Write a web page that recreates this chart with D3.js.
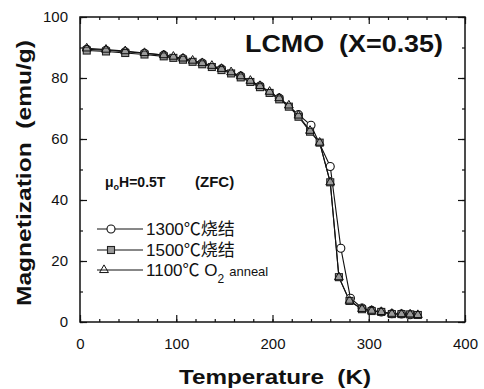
<!DOCTYPE html>
<html><head><meta charset="utf-8">
<script src="https://cdn.jsdelivr.net/npm/d3@7"></script>
<style>
body{margin:0;background:#fff;}
svg{display:block;}
text{font-family:"Liberation Sans",Arial,"Noto Sans CJK SC",sans-serif;fill:#111;}
</style></head>
<body><svg id="c" width="484" height="389"></svg>
<script>
// ---- data ----
const xTicks = [0, 100, 200, 300, 400];
const yTicks = [0, 20, 40, 60, 80, 100];
const seriesNames = ["1300℃烧结", "1500℃烧结", "1100℃ O"];

const T1300 = [7, 27, 47, 67, 87, 107, 127, 147, 167, 187, 207, 227, 240, 260, 271, 281, 293, 303, 313, 324, 334, 343];
const M1300 = [89.4, 89.1, 88.6, 88.1, 87.5, 86.4, 84.9, 83.0, 80.6, 77.4, 73.4, 68.0, 64.5, 51.0, 24.2, 7.8, 4.6, 3.8, 3.3, 2.7, 2.6, 2.4];

const T1500 = [7, 27, 47, 67, 87, 97, 107, 117, 127, 137, 147, 157, 167, 177, 187, 197, 207, 217, 227, 239, 249, 260, 269, 280, 293, 303, 313, 324, 334, 343, 351];
const M1500 = [89.0, 88.7, 88.2, 87.7, 87.1, 86.6, 86.0, 85.3, 84.5, 83.6, 82.6, 81.5, 80.2, 78.7, 77.0, 75.1, 73.0, 70.6, 67.3, 62.4, 58.8, 45.8, 14.7, 6.9, 4.2, 3.6, 3.3, 2.6, 2.6, 2.5, 2.3];

const T1100 = [7, 27, 47, 67, 87, 97, 107, 117, 127, 137, 147, 157, 167, 177, 187, 197, 207, 217, 227, 239, 249, 260, 269, 280, 293, 303, 313, 324, 334, 343, 351];
const M1100 = [89.7, 89.3, 88.8, 88.2, 87.5, 87.0, 86.4, 85.7, 84.9, 84.0, 83.0, 81.9, 80.6, 79.1, 77.4, 75.5, 73.4, 71.0, 67.7, 62.7, 58.8, 45.8, 14.7, 7.0, 4.3, 3.7, 3.3, 2.7, 2.6, 2.5, 2.3];

// ---- drawing ----
const svg = d3.select("#c");
const x = d3.scaleLinear().domain([0, 400]).range([80, 465]);
const y = d3.scaleLinear().domain([0, 100]).range([322, 17]);

// frame
svg.append("rect").attr("x", x(0)).attr("y", y(100))
  .attr("width", x(400) - x(0)).attr("height", y(0) - y(100))
  .attr("fill", "none").attr("stroke", "#111").attr("stroke-width", 1.5);

function axisG(axis, tx, ty) {
  const g = svg.append("g").attr("transform", `translate(${tx},${ty})`).call(axis);
  g.select(".domain").remove();
  g.selectAll("line").attr("stroke", "#111").attr("stroke-width", 1.2);
  return g;
}
const xMinor = d3.range(0, 401, 20), yMinor = d3.range(0, 101, 10);
// bottom
const gb = axisG(d3.axisBottom(x).tickValues(xTicks).tickSizeInner(-7).tickSizeOuter(0).tickPadding(16), 0, y(0));
gb.selectAll("text").attr("font-size", 15).attr("fill", "#111");
axisG(d3.axisBottom(x).tickValues(xMinor).tickSize(-3).tickFormat(""), 0, y(0));
// top
axisG(d3.axisTop(x).tickValues(xTicks).tickSize(-7).tickFormat(""), 0, y(100));
axisG(d3.axisTop(x).tickValues(xMinor).tickSize(-3).tickFormat(""), 0, y(100));
// left
const gl = axisG(d3.axisLeft(y).tickValues(yTicks).tickSizeInner(-7).tickSizeOuter(0).tickPadding(12), x(0), 0);
gl.selectAll("text").attr("font-size", 15).attr("fill", "#111");
axisG(d3.axisLeft(y).tickValues(yMinor).tickSize(-3).tickFormat(""), x(0), 0);
// right
axisG(d3.axisRight(y).tickValues(yTicks).tickSize(-7).tickFormat(""), x(400), 0);
axisG(d3.axisRight(y).tickValues(yMinor).tickSize(-3).tickFormat(""), x(400), 0);

// lines
const line = d3.line().x(d => x(d[0])).y(d => y(d[1]));
const sets = [
  {T: T1300, M: M1300, shape: "circle"},
  {T: T1500, M: M1500, shape: "square"},
  {T: T1100, M: M1100, shape: "triangle"}
];
sets.forEach(s => {
  const pts = s.T.map((t, i) => [t, s.M[i]]);
  svg.append("path").datum(pts).attr("d", line)
    .attr("fill", "none").attr("stroke", "#111").attr("stroke-width", 1.1);
});

function marker(g, shape, cx, cy) {
  if (shape === "circle") {
    g.append("circle").attr("cx", cx).attr("cy", cy).attr("r", 4)
      .attr("fill", "#fff").attr("stroke", "#111").attr("stroke-width", 1.1);
  } else if (shape === "square") {
    g.append("rect").attr("x", cx - 3.5).attr("y", cy - 3.5).attr("width", 7).attr("height", 7)
      .attr("fill", "#9a9a9a").attr("stroke", "#222").attr("stroke-width", 1.1);
  } else {
    g.append("path").attr("d", d3.symbol(d3.symbolTriangle, 34)())
      .attr("transform", `translate(${cx},${cy})`)
      .attr("fill", "none").attr("stroke", "#111").attr("stroke-width", 1);
  }
}
// markers: circles underneath, then squares, then triangles
sets.forEach(s => {
  const g = svg.append("g");
  s.T.forEach((t, i) => marker(g, s.shape, x(t), y(s.M[i])));
});

// title
svg.append("text").attr("x", 245).attr("y", 52).attr("font-size", 23).attr("font-weight", "bold")
  .attr("textLength", 198).attr("lengthAdjust", "spacingAndGlyphs")
  .attr("xml:space", "preserve").text("LCMO  (X=0.35)");

// field annotation
const fa = svg.append("text").attr("x", 105).attr("y", 187).attr("font-size", 14).attr("font-weight", "bold");
fa.append("tspan").text("μ");
fa.append("tspan").attr("font-size", 9).attr("dy", 3).text("o");
fa.append("tspan").attr("dy", -3).text("H=0.5T");
svg.append("text").attr("x", 195).attr("y", 187).attr("font-size", 15).attr("font-weight", "bold")
  .text("(ZFC)");

// legend
const legY = [229, 250, 270];
const legShapes = ["circle", "square", "triangle"];
legY.forEach((ly, i) => {
  const g = svg.append("g");
  g.append("line").attr("x1", 97).attr("x2", 143).attr("y1", ly).attr("y2", ly)
    .attr("stroke", "#111").attr("stroke-width", 1);
  marker(g, legShapes[i], i === 2 ? 104 : 111, ly);
  const t = g.append("text").attr("x", 146).attr("y", ly + 6).attr("font-size", 17);
  t.append("tspan").text(seriesNames[i]);
  if (i === 2) {
    t.append("tspan").attr("font-size", 12).attr("dy", 7).text("2");
    t.append("tspan").attr("font-size", 13).attr("dy", -7).attr("dx", 5).text("anneal");
  }
});

// axis titles
svg.append("text").attr("x", 275).attr("y", 384).attr("text-anchor", "middle")
  .attr("font-size", 21).attr("font-weight", "bold").attr("xml:space", "preserve")
  .attr("textLength", 192).attr("lengthAdjust", "spacingAndGlyphs")
  .text("Temperature  (K)");
svg.append("text").attr("transform", "translate(31,173) rotate(-90)").attr("text-anchor", "middle")
  .attr("font-size", 21).attr("font-weight", "bold").attr("xml:space", "preserve")
  .attr("textLength", 266).attr("lengthAdjust", "spacingAndGlyphs")
  .text("Magnetization  (emu/g)");
</script></body></html>
